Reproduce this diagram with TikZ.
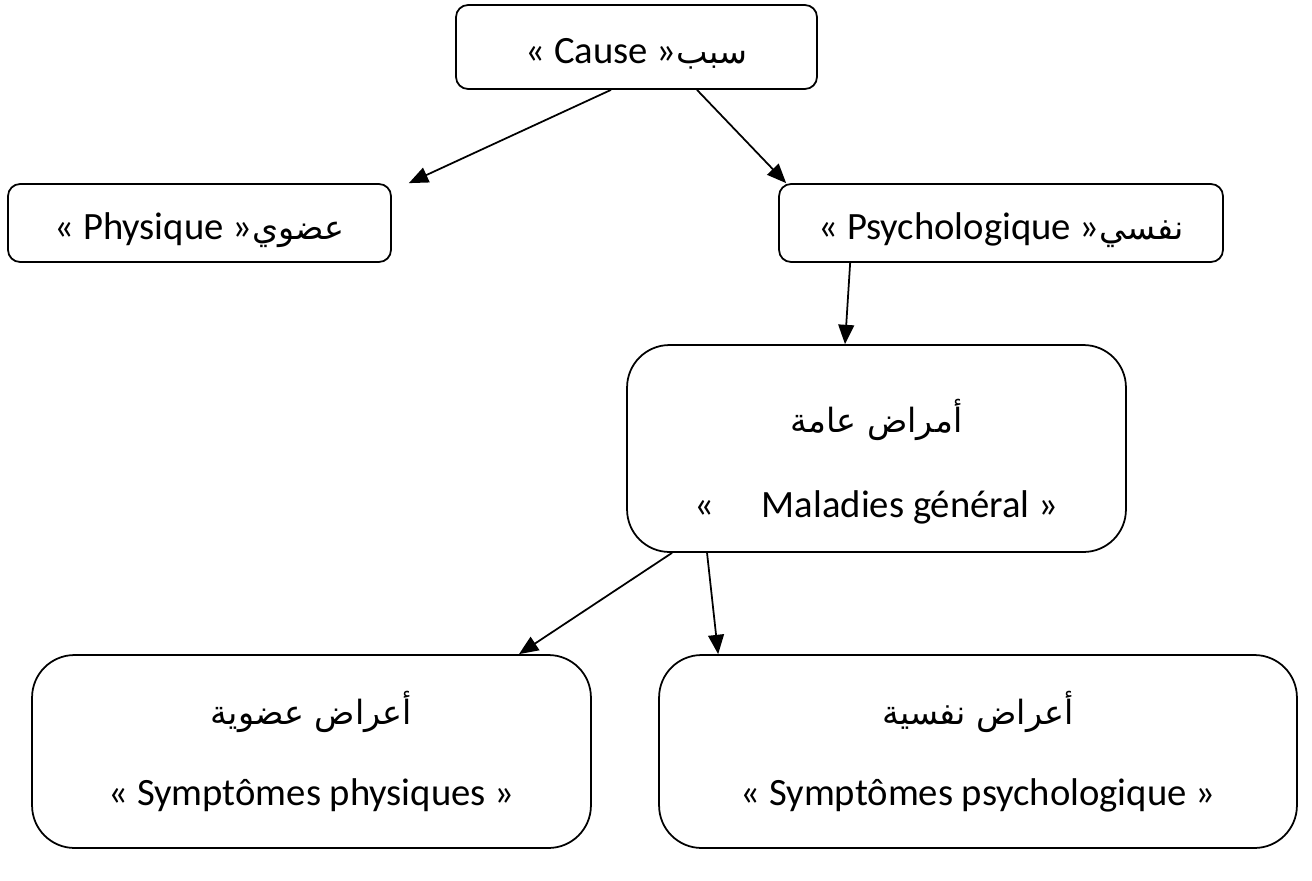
\documentclass[tikz,border=0pt]{standalone}
\usepackage{fontspec}
\setmainfont{Carlito}
\newfontfamily\arabicfont[Script=Arabic]{DejaVu Sans}
\TeXXeTstate=1
\usepackage{tikz}
\usetikzlibrary{arrows.meta,calc}
\newcommand{\Artxt}[1]{{\arabicfont\fontsize{19}{22}\selectfont\beginR #1\endR}}

\begin{document}
\begin{tikzpicture}[x=0.02cm, y=-0.02cm,
    roundbox/.style={draw, line width=1pt, align=center,
                     font=\fontsize{22}{26}\selectfont, inner sep=0pt},
    smallbox/.style={roundbox, rounded corners=0.24cm, text height=19pt, text depth=0pt},
    bigbox/.style={roundbox, rounded corners=0.85cm},
    arr/.style={line width=1pt, -{Triangle[length=11pt,width=9pt]}}]
  \useasboundingbox (0,0) rectangle (1312,880);

  \node[smallbox, minimum width=7.22cm, minimum height=1.68cm] (cause) at (636.5,47)
       {« Cause »\Artxt{سبب}};
  \node[smallbox, minimum width=7.66cm, minimum height=1.56cm] (phys) at (199.5,223)
       {« Physique »\Artxt{عضوي}};
  \node[smallbox, minimum width=8.88cm, minimum height=1.56cm] (psy) at (1001,223)
       {« Psychologique »\Artxt{نفسي}};
  \node[bigbox, minimum width=9.98cm, minimum height=4.14cm] (mal) at (876.5,448.5)
       {\rule{0pt}{34pt}\Artxt{أمراض عامة}\\[22pt] «\quad\ Maladies général »};
  \node[bigbox, minimum width=11.18cm, minimum height=3.86cm] (sphys) at (311.5,751.5)
       {\Artxt{أعراض عضوية}\\[20pt] « Symptômes physiques »};
  \node[bigbox, minimum width=12.76cm, minimum height=3.86cm] (spsy) at (978,751.5)
       {\Artxt{أعراض نفسية}\\[20pt] « Symptômes psychologique »};

  \draw[arr] ([xshift=-0.51cm]cause.south) -- ([xshift=0.34cm]phys.north east);
  \draw[arr] ([xshift=1.21cm]cause.south) -- ([xshift=0.16cm]psy.north west);
  \draw[arr] ([xshift=1.44cm]psy.south west) -- ([xshift=-0.63cm]mal.north);
  \draw[arr] ([xshift=-4.09cm]mal.south) -- ([xshift=4.15cm]sphys.north);
  \draw[arr] ([xshift=-3.39cm]mal.south) -- ([xshift=1.2cm]spsy.north west);
\end{tikzpicture}
\end{document}
